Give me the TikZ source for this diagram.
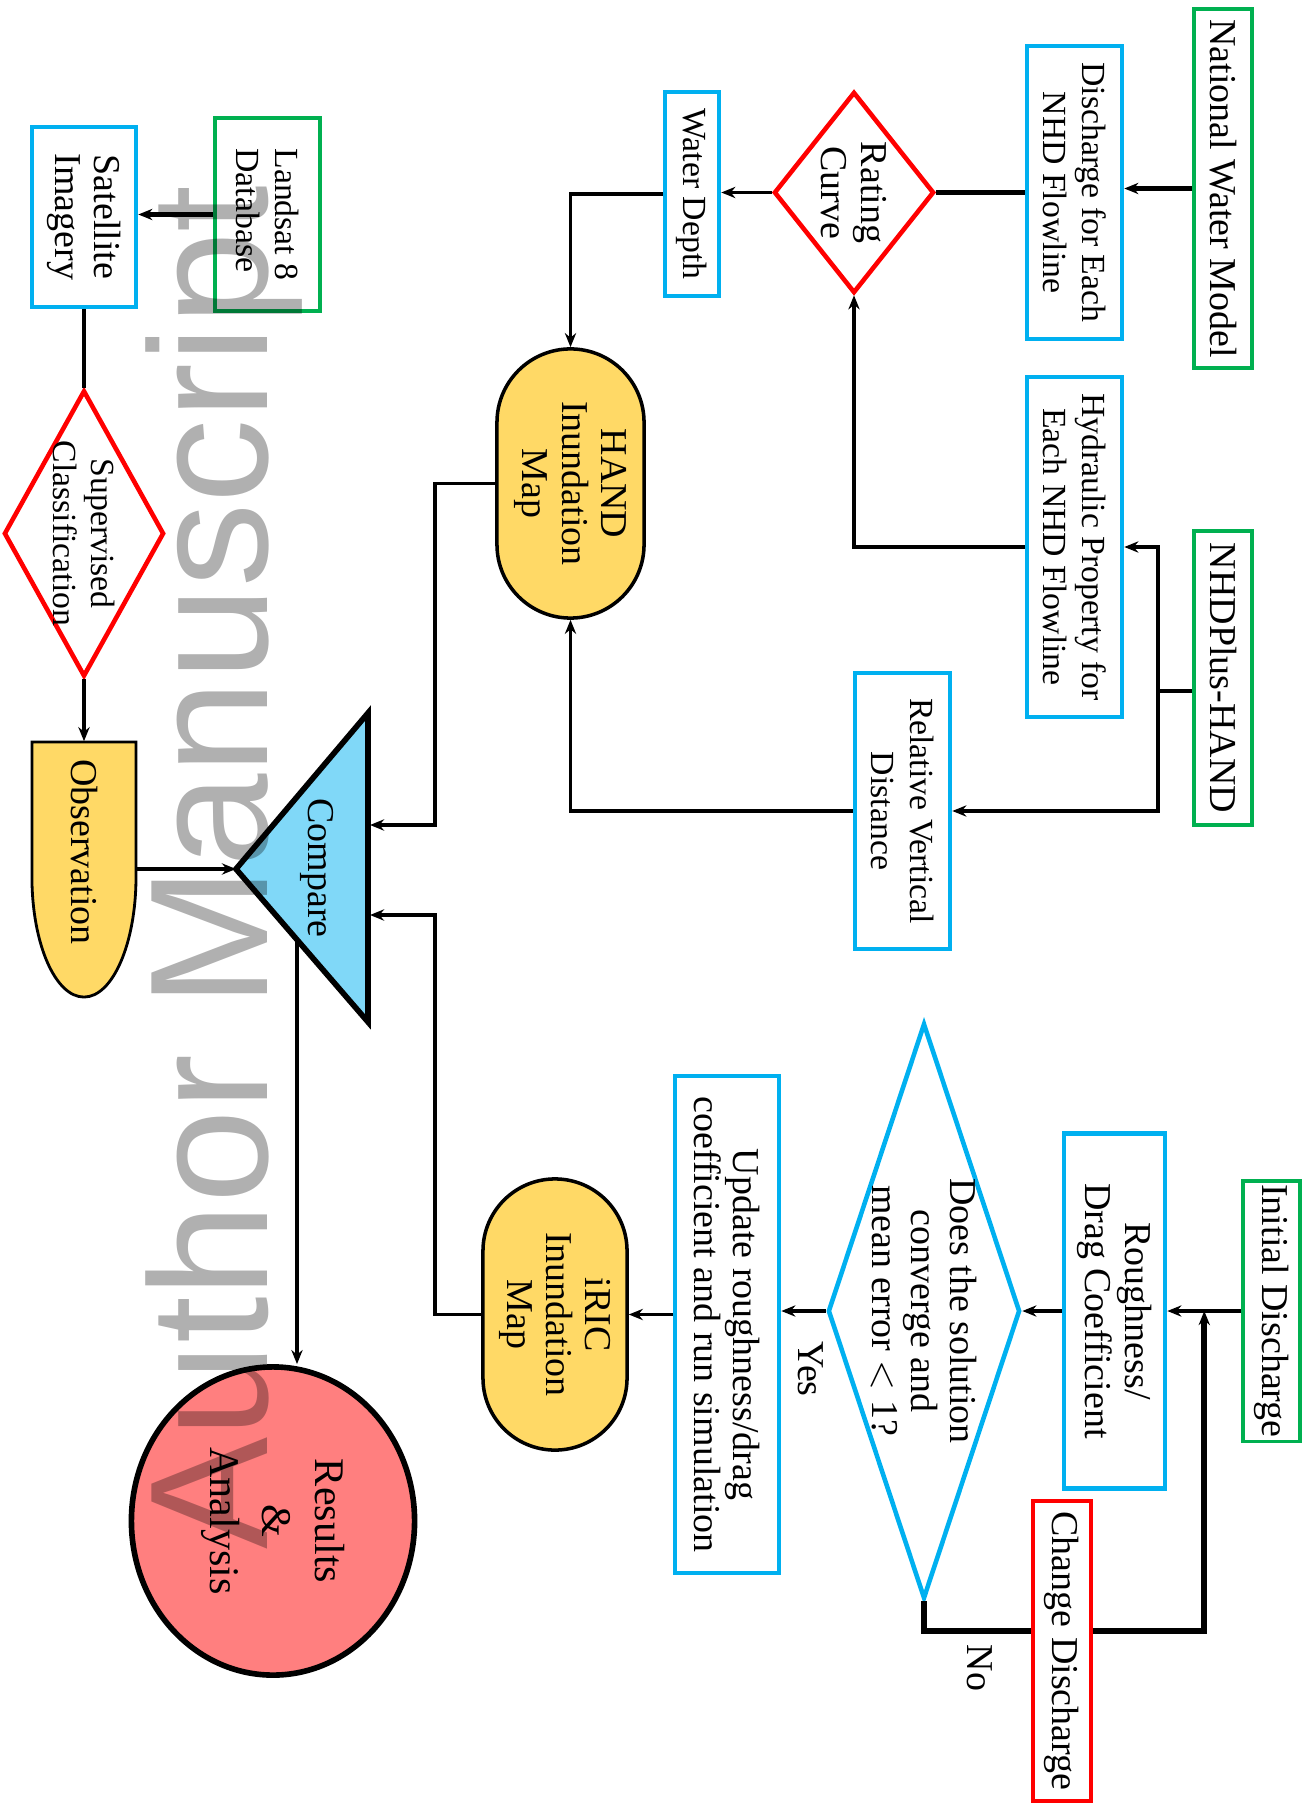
\documentclass[tikz,border=0pt]{standalone}
\usepackage{fontspec}
\setmainfont{Liberation Serif}
\newfontfamily\markfont{Liberation Sans}
\usetikzlibrary{shapes.geometric,arrows.meta,calc}

\definecolor{nwgreen}{HTML}{00B050}
\definecolor{nwblue}{HTML}{00B0F0}
\definecolor{mapyellow}{HTML}{FFD966}
\definecolor{cmpblue}{HTML}{80D8F8}
\definecolor{resred}{HTML}{FF7F7F}

\newcommand\flowfont{\fontsize{10.8}{11.2}\selectfont}
\newcommand\smallflow{\fontsize{9.6}{11}\selectfont}

\tikzset{
  flowbox/.style={draw, rotate=-90, align=center, inner sep=1pt},
  greenbox/.style={flowbox, draw=nwgreen, line width=1pt},
  bluebox/.style={flowbox, draw=nwblue, line width=1.3pt},
  redbox/.style={flowbox, draw=red, line width=1pt},
  decide/.style={diamond, draw, rotate=-90, align=center, aspect=2, inner sep=-7pt, line width=1.3pt},
  mapbox/.style={flowbox, fill=mapyellow, draw=black, line width=1pt},
  link/.style={line width=1pt},
  heavy/.style={line width=1.7pt}
}

\begin{document}
\begin{tikzpicture}[x=0.01cm, y=-0.01cm, >={Stealth[length=4pt,width=3.2pt]}, font=\flowfont]
\useasboundingbox (0,0) rectangle (1307,1804);

% HAND side
\node (nwm) at (1223,188.5) [greenbox, minimum width=3.59cm, minimum height=0.58cm] {National Water Model};
\node (dis) at (1074.5,192.5) [bluebox, font=\smallflow, minimum width=2.93cm, minimum height=0.95cm] {Discharge for Each\\NHD Flowline};
\node (rc) at (854,192.5) [decide, draw=red, minimum width=2.01cm, minimum height=1.60cm] {Rating\\Curve};
\node (wd) at (692,194) [bluebox, font=\smallflow, minimum width=2.04cm, minimum height=0.54cm] {Water Depth};
\node (nhd) at (1223,678) [greenbox, minimum width=2.94cm, minimum height=0.58cm] {NHDPlus-HAND};
\node (hyd) at (1074.5,547) [bluebox, font=\smallflow, minimum width=3.40cm, minimum height=0.95cm] {Hydraulic Property for\\Each NHD Flowline};
\node (rvd) at (902.5,811) [bluebox, font=\smallflow, minimum width=2.76cm, minimum height=0.95cm] {Relative Vertical\\Distance};
\node (hand) at (570.5,483.5) [mapbox, rounded corners=0.735cm, minimum width=2.69cm, minimum height=1.47cm] {HAND\\Inundation\\Map};

% satellite side
\node (lds) at (267.5,214.5) [greenbox, font=\smallflow, align=left, minimum width=1.93cm, minimum height=1.05cm] {Landsat 8\\Database};
\node (sat) at (84,217) [bluebox, minimum width=1.80cm, minimum height=1.04cm] {Satellite\\Imagery};
\node (sup) at (84,533.5) [decide, draw=red, font=\smallflow, minimum width=2.86cm, minimum height=1.60cm] {Supervised\\Classification};
\draw[fill=mapyellow, line width=0.8pt] (32,742) -- (136,742) -- (136,877)
  arc[start angle=0, end angle=-180, x radius=0.52cm, y radius=1.2cm] -- cycle;
\node (obs) at (84,852) [flowbox, draw=none, minimum width=2.2cm, minimum height=1.04cm] {Observation};

% compare and results
\draw[fill=cmpblue, line width=1.6pt] (236,869) coordinate (cmpapex) -- (368,713) -- (368,1022) -- cycle;
\node (cmp) at (317,868) [rotate=-90] {Compare};
\node (res) at (273,1521) [ellipse, draw, fill=resred, rotate=-90, align=center, line width=1.6pt,
  minimum width=3.08cm, minimum height=2.83cm, font=\fontsize{12}{15}\selectfont] {Results\\\&\\Analysis};

% iRIC side
\node (ini) at (1271.5,1311) [greenbox, minimum width=2.58cm, minimum height=0.57cm] {Initial Discharge};
\node (rou) at (1114.5,1311) [bluebox, minimum width=3.55cm, minimum height=1.01cm] {Roughness/\\Drag Coefficient};
\node (dia) at (924,1311) [decide, draw=nwblue, minimum width=5.75cm, minimum height=1.92cm] {Does the solution\\converge and\\mean error $<$ 1?};
\node (chg) at (1062,1651) [redbox, minimum width=3.00cm, minimum height=0.58cm] {Change Discharge};
\node (upd) at (727,1324.5) [bluebox, minimum width=4.97cm, minimum height=1.04cm] {Update roughness/drag\\coefficient and run simulation};
\node (iric) at (555,1314.5) [mapbox, rounded corners=0.72cm, minimum width=2.71cm, minimum height=1.44cm] {iRIC\\Inundation\\Map};
\node (yes) at (811,1369) [rotate=-90] {Yes};
\node (no) at (980,1668) [rotate=-90] {No};

% connectors
\draw[heavy,->] (nwm.south) -- (nwm.south -| dis.north);
\draw[heavy] (dis.south) -- (rc.north);
\draw[link,->] (rc.south) -- (rc.south -| wd.north);
\draw[link,->] (wd.south) -| (hand.west);
\coordinate (nhdbus) at (1158,691);
\draw[link] (nhd.south |- nhdbus) -- (nhdbus);
\draw[link,->] (nhdbus) |- (hyd.north);
\draw[link,->] (nhdbus) |- (rvd.north);
\draw[link,->] (hyd.south) -| (rc.east);
\draw[link,->] (rvd.south) -| (hand.east);

\coordinate (cmpin1) at (370,825);
\coordinate (cmpin2) at (370,915);
\coordinate (cmpbus) at (435,869);
\draw[link,->] (hand.south) -| (cmpbus |- cmpin1) -- (cmpin1);
\draw[link,->] (iric.south) -| (cmpbus |- cmpin2) -- (cmpin2);

\draw[heavy,->] (lds.south) -- (lds.south -| sat.north);
\draw[link] (sat.east) -- (sup.west);
\draw[link,->] (sup.east) -- (obs.west);
\draw[link,->] (obs.north |- cmpapex) -- (cmpapex);
\coordinate (cmpout) at (297,940);
\draw[link,->] (cmpout) -- (cmpout |- res.west);

\draw[link,->] (ini.south) -- (ini.south -| rou.north);
\draw[link,->] (rou.south) -- (rou.south -| dia.north);
\draw[link,->] (dia.south) -- (dia.south -| upd.north);
\draw[link,->] (upd.south |- iric.north) -- (iric.north);
\coordinate (nolvl) at (0,1631);
\coordinate (nojoin) at ($(ini.south)!0.5!(rou.north)$);
\draw[heavy] (dia.east) |- (chg.south |- nolvl);
\draw[heavy,->] (chg.north |- nolvl) -| (nojoin);

% watermark
\node (mark) at (267,1550) [rotate=90, anchor=base west, inner sep=0pt, text=black, text opacity=0.31,
  font=\markfont\fontsize{47.8}{50}\selectfont] {Author Manuscript};
\end{tikzpicture}
\end{document}
